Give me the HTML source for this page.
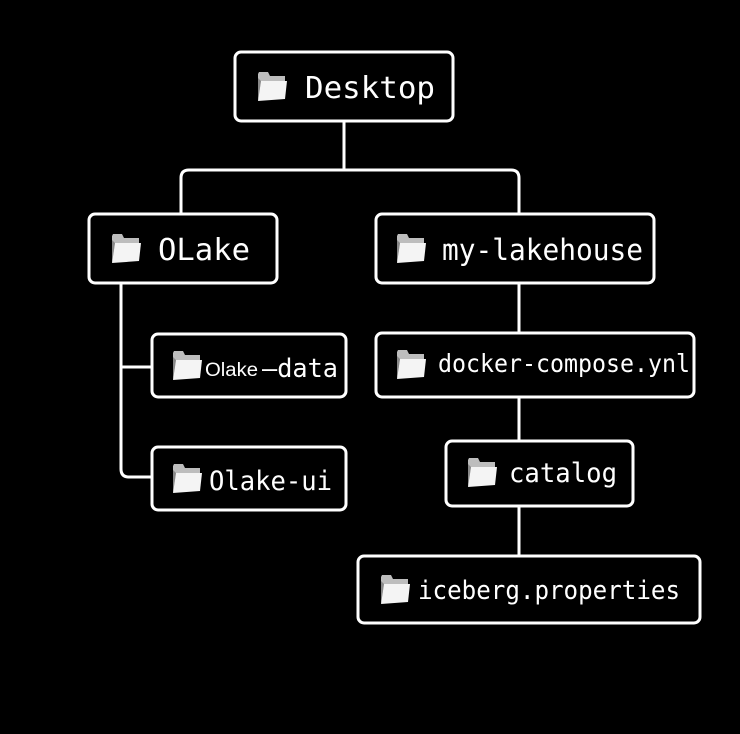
<!DOCTYPE html>
<html><head><meta charset="utf-8"><style>
html,body{margin:0;padding:0;background:#000;}
svg{display:block;}
text{font-family:"DejaVu Sans Mono","Liberation Mono",monospace;fill:#fff;}
</style></head><body>
<svg width="740" height="734" viewBox="0 0 740 734" xmlns="http://www.w3.org/2000/svg">
<rect width="740" height="734" fill="#000"/>
<defs>
<g id="f">
<path d="M1 2 L2 0 L11 0 L13 4 L28 4 L28 26 L1 28 Z" fill="#bdbdbd"/>
<path d="M4 9 L30 9 L28 27 L1 29 Z" fill="#f4f4f4"/>
<path d="M1 6 L4 9 L1 29 Z" fill="#888"/>
</g>
</defs>
<g fill="none" stroke="#fff" stroke-width="3">
<!-- connectors -->
<path d="M344 121 V170"/>
<path d="M181 214 V178 Q181 170 189 170 H511 Q519 170 519 178 V214"/>
<path d="M121 283 V469 Q121 477 129 477 H152"/>
<path d="M121 367 H152"/>
<path d="M519 283 V333 M519 397 V441 M519 506 V556"/>
<!-- boxes -->
<rect x="235" y="52" width="218" height="69" rx="6"/>
<rect x="89" y="214" width="188" height="69" rx="6"/>
<rect x="376" y="214" width="278" height="69" rx="6"/>
<rect x="152" y="334" width="194" height="63" rx="6"/>
<rect x="152" y="447" width="194" height="63" rx="6"/>
<rect x="376" y="333" width="318" height="64" rx="6"/>
<rect x="446" y="441" width="187" height="65" rx="6"/>
<rect x="358" y="556" width="342" height="67" rx="6"/>
</g>
<use href="#f" x="257" y="72"/>
<use href="#f" x="111" y="234"/>
<use href="#f" x="396" y="234"/>
<use href="#f" x="172" y="351"/>
<use href="#f" x="172" y="464"/>
<use href="#f" x="396" y="350"/>
<use href="#f" x="467" y="458"/>
<use href="#f" x="380" y="575"/>
<text x="305" y="98" font-size="30" textLength="130" lengthAdjust="spacingAndGlyphs">Desktop</text>
<text x="158" y="260" font-size="30" textLength="92" lengthAdjust="spacingAndGlyphs">OLake</text>
<text x="442" y="260" font-size="29" textLength="201" lengthAdjust="spacingAndGlyphs">my-lakehouse</text>
<text x="205" y="376" font-size="19" font-family="Liberation Sans, sans-serif" textLength="53" lengthAdjust="spacingAndGlyphs" style="font-family:'Liberation Sans',sans-serif">Olake</text>
<text x="262" y="377" font-size="26" textLength="76" lengthAdjust="spacingAndGlyphs">—data</text>
<text x="209" y="490" font-size="27" textLength="123" lengthAdjust="spacingAndGlyphs">Olake-ui</text>
<text x="438" y="372" font-size="25" textLength="252" lengthAdjust="spacingAndGlyphs">docker-compose.ynl</text>
<text x="509" y="482" font-size="27" textLength="108" lengthAdjust="spacingAndGlyphs">catalog</text>
<text x="418" y="599" font-size="26" textLength="262" lengthAdjust="spacingAndGlyphs">iceberg.properties</text>
</svg>
</body></html>
